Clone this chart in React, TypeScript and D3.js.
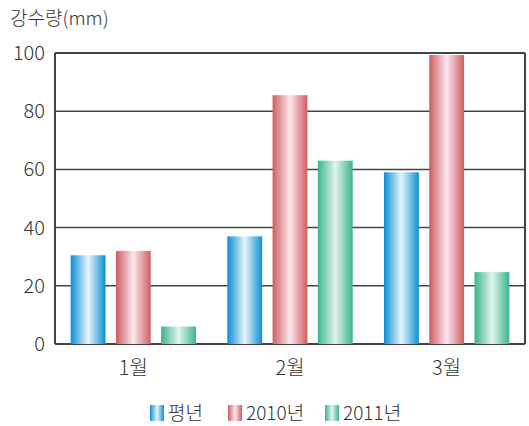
import React from "react";
import * as d3 from "d3";

const months = ["1월", "2월", "3월"];
const seriesNames = ["평년", "2010년", "2011년"];
const normal = [30.5, 37, 59];
const y2010 = [32, 85.5, 99.3];
const y2011 = [6, 63, 24.7];
const yTicks = [0, 20, 40, 60, 80, 100];

const colors = [
  { edge: "#0b8fd4", mid: "#e8f5fc" },
  { edge: "#cf5d61", mid: "#fce8ee" },
  { edge: "#3ab58a", mid: "#e3f4ec" },
];

const W = 529;
const H = 426;
const margin = { left: 55, right: 4, top: 53, bottom: 82 };
const font = "'Noto Sans CJK KR', 'Noto Sans', sans-serif";

export default function App() {
  const values = [normal, y2010, y2011];
  const x0 = d3
    .scaleBand<string>()
    .domain(months)
    .range([margin.left, W - margin.right])
    .paddingInner(0.2)
    .paddingOuter(0.1);
  const x1 = d3
    .scaleBand<string>()
    .domain(seriesNames)
    .range([0, x0.bandwidth()])
    .paddingInner(0.23);
  const y = d3.scaleLinear().domain([0, 100]).range([H - margin.bottom, margin.top]);

  const legendX = [150, 228, 325];

  return (
    <svg width={W} height={H} style={{ position: "absolute", left: 0, top: 0 }} fontFamily={font} fontWeight={300}>
      <defs>
        {colors.map((c, i) => (
          <linearGradient id={`g${i}`} key={i} x1="0" x2="1" y1="0" y2="0">
            <stop offset="0" stopColor={c.edge} />
            <stop offset="0.5" stopColor={c.mid} />
            <stop offset="1" stopColor={c.edge} />
          </linearGradient>
        ))}
      </defs>
      <text x={10} y={25} fontSize={19} fill="#333">강수량(mm)</text>
      {yTicks.map((t) => (
        <g key={t}>
          <line x1={margin.left} x2={W - margin.right} y1={y(t)} y2={y(t)} stroke="#444" strokeWidth={t === 0 || t === 100 ? 2 : 1.5} />
          <text x={45} y={y(t) + 7} fontSize={20} textAnchor="end" fill="#333">{t}</text>
        </g>
      ))}
      <line x1={margin.left} x2={margin.left} y1={y(100)} y2={y(0)} stroke="#444" strokeWidth={2} />
      <line x1={W - margin.right} x2={W - margin.right} y1={y(100)} y2={y(0)} stroke="#444" strokeWidth={2} />
      {months.map((m, mi) => (
        <g key={m} transform={`translate(${x0(m)},0)`}>
          {seriesNames.map((s, si) => (
            <rect
              key={s}
              x={x1(s)}
              y={y(values[si][mi])}
              width={x1.bandwidth()}
              height={y(0) - y(values[si][mi])}
              fill={`url(#g${si})`}
            />
          ))}
          <text x={x0.bandwidth() / 2} y={y(0) + 31} fontSize={20} textAnchor="middle" fill="#333">{m}</text>
        </g>
      ))}
      {seriesNames.map((s, si) => (
        <g key={s} transform={`translate(${legendX[si]},405)`}>
          <rect width={14} height={16} fill={`url(#g${si})`} />
          <text x={18} y={15} fontSize={19} fill="#333">{s}</text>
        </g>
      ))}
    </svg>
  );
}
